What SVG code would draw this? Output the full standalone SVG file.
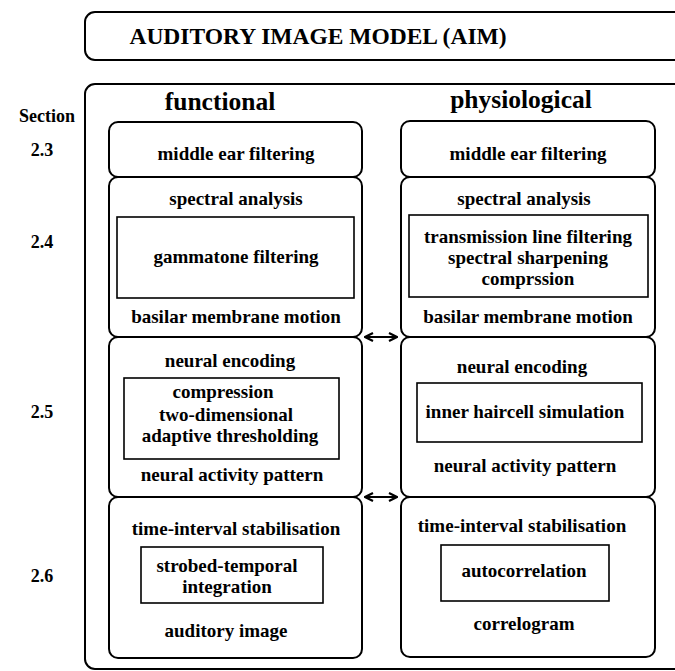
<svg xmlns="http://www.w3.org/2000/svg" width="675" height="671" viewBox="0 0 675 671">
<defs>
<style>
text{font-family:"Liberation Serif","Times New Roman",serif;font-weight:bold;fill:#000;text-anchor:middle}
.frame{fill:none;stroke:#000;stroke-width:2}
.stage{fill:#fff;stroke:#000;stroke-width:2}
.inner{fill:none;stroke:#000;stroke-width:1.6}
.t{font-size:19px}
.h{font-size:25.5px}
.ti{font-size:23.5px}
.s{font-size:18px}
.conn{stroke:#000;stroke-width:2;fill:none}
</style>
<marker id="chev" viewBox="0 0 10 10" refX="9" refY="5" markerWidth="10" markerHeight="10" markerUnits="userSpaceOnUse" orient="auto-start-reverse">
<path d="M1,1 L9,5 L1,9" fill="none" stroke="#000" stroke-width="2.2"/>
</marker>
</defs>
<rect width="675" height="671" fill="#fff"/>

<g id="title">
<rect class="frame" x="85" y="12" width="620" height="48" rx="10"/>
<text class="ti" x="318" y="44">AUDITORY IMAGE MODEL (AIM)</text>
</g>

<g id="outer">
<rect class="frame" x="85" y="84" width="620" height="585" rx="10"/>
<text class="h" x="220" y="110">functional</text>
<text class="h" x="521" y="108">physiological</text>
</g>

<g id="sections">
<text class="s" x="47" y="122">Section</text>
<text class="s" x="42" y="156">2.3</text>
<text class="s" x="42" y="248">2.4</text>
<text class="s" x="42" y="418">2.5</text>
<text class="s" x="42" y="582">2.6</text>
</g>

<g id="f-middle-ear">
<rect class="stage" x="109" y="122" width="253" height="55" rx="9"/>
<text class="t" x="236" y="160">middle ear filtering</text>
</g>
<g id="f-spectral">
<rect class="stage" x="109" y="177" width="253" height="160" rx="9"/>
<text class="t" x="236" y="205">spectral analysis</text>
<rect class="inner" x="117" y="217" width="237" height="81"/>
<text class="t" x="236" y="263">gammatone filtering</text>
<text class="t" x="236" y="323">basilar membrane motion</text>
</g>
<g id="f-neural">
<rect class="stage" x="109" y="337" width="253" height="160" rx="9"/>
<text class="t" x="230" y="367">neural encoding</text>
<rect class="inner" x="124" y="378" width="215" height="81"/>
<text class="t" x="223" y="398">compression</text>
<text class="t" x="226" y="421">two-dimensional</text>
<text class="t" x="230" y="442">adaptive thresholding</text>
<text class="t" x="232" y="481">neural activity pattern</text>
</g>
<g id="f-time">
<rect class="stage" x="109" y="497" width="253" height="161" rx="9"/>
<text class="t" x="236" y="535">time-interval stabilisation</text>
<rect class="inner" x="141" y="547" width="182" height="56"/>
<text class="t" x="227" y="572">strobed-temporal</text>
<text class="t" x="227" y="593">integration</text>
<text class="t" x="226" y="637">auditory image</text>
</g>

<g id="p-middle-ear">
<rect class="stage" x="401" y="121" width="254" height="56" rx="9"/>
<text class="t" x="528" y="160">middle ear filtering</text>
</g>
<g id="p-spectral">
<rect class="stage" x="401" y="177" width="254" height="160" rx="9"/>
<text class="t" x="524" y="205">spectral analysis</text>
<rect class="inner" x="409" y="215" width="239" height="82"/>
<text class="t" x="528" y="243">transmission line filtering</text>
<text class="t" x="528" y="264">spectral sharpening</text>
<text class="t" x="528" y="285">comprssion</text>
<text class="t" x="528" y="323">basilar membrane motion</text>
</g>
<g id="p-neural">
<rect class="stage" x="401" y="337" width="254" height="160" rx="9"/>
<text class="t" x="522" y="373">neural encoding</text>
<rect class="inner" x="417" y="383" width="225" height="59"/>
<text class="t" x="525" y="418">inner haircell simulation</text>
<text class="t" x="525" y="472">neural activity pattern</text>
</g>
<g id="p-time">
<rect class="stage" x="401" y="497" width="254" height="160" rx="9"/>
<text class="t" x="522" y="532">time-interval stabilisation</text>
<rect class="inner" x="441" y="545" width="168" height="56"/>
<text class="t" x="524" y="577">autocorrelation</text>
<text class="t" x="524" y="630">correlogram</text>
</g>

<g id="connectors">
<line class="conn" x1="365" y1="337" x2="397" y2="337" marker-start="url(#chev)" marker-end="url(#chev)"/>
<line class="conn" x1="365" y1="497" x2="397" y2="497" marker-start="url(#chev)" marker-end="url(#chev)"/>
</g>
</svg>
